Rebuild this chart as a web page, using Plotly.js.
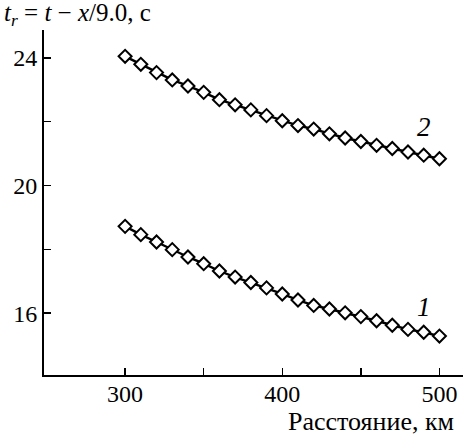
<!DOCTYPE html>
<html>
<head>
<meta charset="utf-8">
<script src="https://cdn.plot.ly/plotly-3.0.1.min.js"></script>
<style>html,body{margin:0;padding:0;background:#fff;}#chart{width:467px;height:435px;}</style>
</head>
<body>
<div id="chart"></div>
<script>
const distance = [300,310,320,330,340,350,360,370,380,390,400,410,420,430,440,450,460,470,480,490,500];
const series2 = [24.05,23.80,23.54,23.31,23.12,22.92,22.69,22.53,22.37,22.19,22.03,21.88,21.77,21.62,21.49,21.38,21.26,21.16,21.05,20.95,20.84];
const series1 = [18.72,18.46,18.23,17.99,17.76,17.55,17.32,17.13,16.96,16.79,16.60,16.41,16.24,16.13,16.01,15.89,15.76,15.62,15.49,15.40,15.28];
const xTickVals = [300,400,500];
const xTickText = ['300','400','500'];
const xMinorVals = [350,450];
const yTickVals = [16,20,24];
const yTickText = ['16','20','24'];
const yMinorVals = [18,22];
const curveLabels = ['1','2'];

const serif = '"Liberation Serif", "Times New Roman", Times, serif';
function trace(y){
  return {x: distance, y: y, type:'scatter', mode:'lines+markers',
    line:{color:'#000', width:2.4},
    marker:{symbol:'diamond', size:10, color:'#fff', line:{color:'#000', width:2}},
    showlegend:false, hoverinfo:'skip'};
}
const minorStyle = (vals) => ({tickvals:vals, ticks:'inside', ticklen:7, tickwidth:1.5, tickcolor:'#000', showgrid:false});
const layout = {
  width:467, height:435,
  margin:{l:44, r:4, t:30, b:60},
  paper_bgcolor:'#fff', plot_bgcolor:'#fff',
  font:{family:serif, size:24, color:'#000'},
  xaxis:{range:[248.4,515], tickvals:xTickVals, ticktext:xTickText, ticks:'inside', ticklen:7, tickwidth:1.5, tickcolor:'#000',
    ticklabelstandoff:-4, minor:minorStyle(xMinorVals),
    showline:true, linecolor:'#000', linewidth:2, showgrid:false, zeroline:false, tickfont:{family:serif,size:24}},
  yaxis:{range:[14.06,24.875], tickvals:yTickVals, ticktext:yTickText, ticks:'inside', ticklen:7, tickwidth:1.5, tickcolor:'#000',
    minor:minorStyle(yMinorVals),
    showline:true, linecolor:'#000', linewidth:2, showgrid:false, zeroline:false, tickfont:{family:serif,size:24}},
  annotations:[
    {xref:'paper', yref:'paper', x:-0.1, y:1.045, xanchor:'left', yanchor:'middle', showarrow:false,
     text:'<i>t</i><sub><i>r</i></sub> = <i>t</i> − <i>x</i>/9.0, с', font:{family:serif,size:25}},
    {xref:'paper', yref:'paper', x:0.983, y:-0.135, xanchor:'right', yanchor:'middle', showarrow:false,
     text:'Расстояние, км', font:{family:serif,size:26}},
    {x:490.5, y:16.19, xref:'x', yref:'y', showarrow:false, text:'<i>'+curveLabels[0]+'</i>', font:{family:serif,size:27}},
    {x:490.2, y:21.83, xref:'x', yref:'y', showarrow:false, text:'<i>'+curveLabels[1]+'</i>', font:{family:serif,size:27}}
  ]
};
Plotly.newPlot('chart', [trace(series1), trace(series2)], layout, {staticPlot:true, displayModeBar:false});
</script>
</body>
</html>
